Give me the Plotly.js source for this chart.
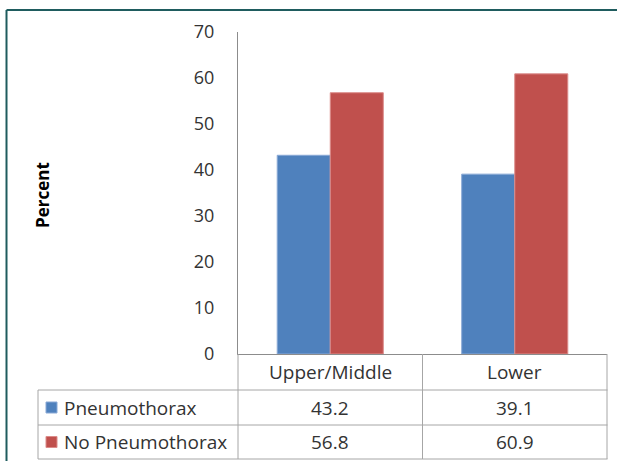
<!DOCTYPE html>
<html>
<head>
<meta charset="utf-8">
<script src="https://cdn.plot.ly/plotly-3.0.1.min.js"></script>
<style>
  html, body { margin: 0; padding: 0; background: #fff; }
  #chart { width: 617px; height: 461px; }
</style>
</head>
<body>
<div id="chart"></div>
<script>
// Lung zone categories and the two series shown in the bars and in the data table
const categories = ['Upper/Middle', 'Lower'];
const seriesNames = ['Pneumothorax', 'No Pneumothorax'];
const pneumothorax = [43.2, 39.1];
const noPneumothorax = [56.8, 60.9];
const yTicks = [0, 10, 20, 30, 40, 50, 60, 70];

const colors = ['#4F81BD', '#C0504D'];
const edgeColors = ['#8AA9D6', '#DC8C8A'];
const textColor = '#333333';
const fontFamily = '"Open Sans", "Liberation Sans", sans-serif';
const tableLine = '#A6A6A6';

// Page geometry (pixels)
const W = 617, H = 461;
const M = { l: 238, r: 10, t: 32, b: 107 };
const plotW = W - M.l - M.r;
const plotH = H - M.t - M.b;
const px = x => (x - M.l) / plotW;          // pixel x -> paper x
const py = y => (H - M.b - y) / plotH;      // pixel y -> paper y

// Data table row boundaries (pixels)
const rowTop = H - M.b;      // axis line / header top
const rowHead = 390;         // header bottom
const rowMid = 425;          // between series rows
const rowBot = 459;          // table bottom
const tableLeft = 38;

const seriesValues = [pneumothorax, noPneumothorax];

const traces = seriesValues.map((vals, i) => ({
  type: 'bar',
  x: categories,
  y: vals,
  name: seriesNames[i],
  marker: { color: colors[i], line: { color: edgeColors[i], width: 1 } },
  hoverinfo: 'skip'
}));

const shapes = [];
const line = (x0, y0, x1, y1, color, width, xref) => shapes.push({
  type: 'line', xref: xref || 'paper', yref: 'paper',
  x0, y0, x1, y1, line: { color, width }
});

// Outer chart frame
line(px(6.5), py(470), px(6.5), py(10), '#1F5C5E', 2);
line(px(6.5), py(10), px(630), py(10), '#1F5C5E', 2);

// Data table grid
[rowHead, rowMid, rowBot].forEach(r => line(px(tableLeft), py(r), px(W - M.r + 0.5), py(r), tableLine, 1));
line(px(tableLeft), py(rowHead), px(tableLeft), py(rowBot), tableLine, 1);
line(0, py(rowTop), 0, py(rowBot), tableLine, 1);
line(1, py(rowTop), 1, py(rowBot), tableLine, 1);
line(0.5, py(rowTop), 0.5, py(rowBot), tableLine, 1, 'x');

// Legend keys in the table
const rowCenters = [(rowHead + rowMid) / 2, (rowMid + rowBot) / 2];
rowCenters.forEach((c, i) => shapes.push({
  type: 'rect', xref: 'paper', yref: 'paper',
  x0: px(46), x1: px(57), y0: py(c + 5.5), y1: py(c - 5.5),
  fillcolor: colors[i], line: { color: edgeColors[i], width: 1 }
}));

const annotations = [];
const tableFont = { family: fontFamily, size: 19, color: textColor };

// Header row: category names
categories.forEach(cat => annotations.push({
  xref: 'x', yref: 'paper', x: cat, y: py((rowTop + rowHead) / 2),
  text: cat, showarrow: false, font: tableFont, xanchor: 'center', yanchor: 'middle'
}));

// Series rows: names and values
seriesValues.forEach((vals, i) => {
  annotations.push({
    xref: 'paper', yref: 'paper', x: px(62), y: py(rowCenters[i]),
    text: seriesNames[i], showarrow: false, font: tableFont,
    xanchor: 'left', yanchor: 'middle'
  });
  vals.forEach((v, j) => annotations.push({
    xref: 'x', yref: 'paper', x: categories[j], y: py(rowCenters[i]),
    text: v.toFixed(1), showarrow: false, font: tableFont,
    xanchor: 'center', yanchor: 'middle'
  }));
});

// Vertical axis title
annotations.push({
  xref: 'paper', yref: 'paper', x: px(42), y: py(195),
  text: '<b>Percent</b>', textangle: -90, showarrow: false,
  font: { family: fontFamily, size: 17, color: '#000' },
  xanchor: 'center', yanchor: 'middle'
});

const layout = {
  width: W, height: H,
  margin: M,
  paper_bgcolor: '#fff', plot_bgcolor: '#fff',
  showlegend: false,
  barmode: 'group', bargap: 0.425, bargroupgap: 0,
  font: { family: fontFamily, color: textColor },
  xaxis: {
    type: 'category', range: [-0.5, 1.5],
    showgrid: false, zeroline: false, showline: true,
    linecolor: '#8C8C8C', linewidth: 1,
    ticks: '', showticklabels: false, fixedrange: true
  },
  yaxis: {
    range: [0, 70], tickvals: yTicks, ticktext: yTicks.map(String),
    showgrid: false, zeroline: false, showline: true,
    linecolor: '#8C8C8C', linewidth: 1, ticks: '',
    ticklabelstandoff: 19,
    tickfont: { family: fontFamily, size: 18, color: textColor },
    fixedrange: true
  },
  shapes, annotations
};

Plotly.newPlot('chart', traces, layout, { displayModeBar: false, staticPlot: true });
</script>
</body>
</html>
